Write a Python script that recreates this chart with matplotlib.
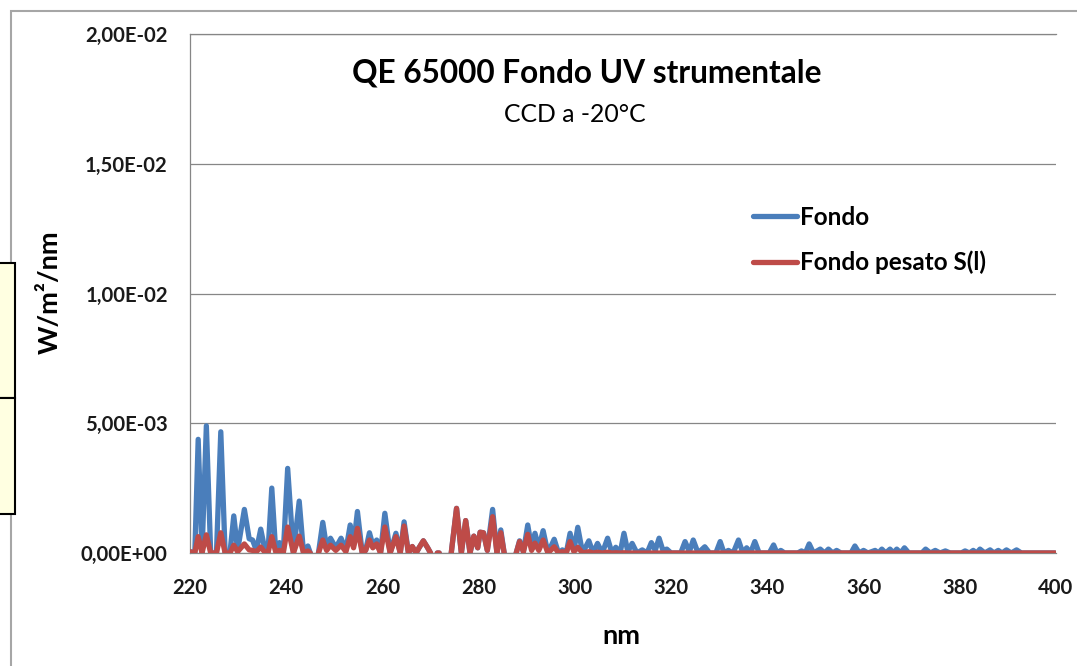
import numpy as np
import matplotlib
matplotlib.use("Agg")
import matplotlib.pyplot as plt
from matplotlib.patches import Rectangle
from matplotlib.ticker import FuncFormatter, MultipleLocator

plt.rcParams['font.family'] = ['Lato', 'DejaVu Sans']

nan = np.nan

# wavelength samples (nm) and read values in units of 1e-3 W/m2/nm
nm = [220.0, 221.0, 221.7, 222.5, 223.4, 224.3, 225.5, 226.4, 227.3, 228.3,
      229.1, 229.9, 231.3, 232.3, 233.0, 233.8, 234.7, 235.6, 236.2, 237.0,
      237.8, 238.6, 239.4, 240.3, 241.5, 242.7, 243.6, 244.5, 245.0, 246.0,
      246.7, 247.6, 248.4, 249.2, 250.3, 251.4, 252.4, 253.3, 254.0, 254.8,
      255.8, 256.5, 257.3, 258.0, 258.8, 259.6, 260.5, 261.6, 262.8, 263.7,
      264.5, 265.4, 266.2, 267.0, 267.6, 268.5, 269.4, 270.0, 270.8, 271.4,
      271.8, 273.0, 274.3, 275.4, 276.4, 277.3, 278.2, 279.0, 279.8, 280.3,
      281.0, 281.8, 282.9, 283.8, 284.6, 285.3, 286.5, 287.8, 288.5, 289.3,
      290.2, 291.0, 291.7, 292.5, 293.4, 294.4, 295.7, 296.6, 297.4, 298.2,
      299.0, 299.8, 300.6, 301.6, 302.9, 303.8, 304.7, 305.7, 306.8, 307.7,
      308.5, 309.4, 310.2, 311.0, 311.9, 312.9, 314.0, 315.0, 315.9, 316.7,
      317.5, 318.3, 319.1, 320.0, 322.0, 322.9, 323.8, 324.6, 325.6, 327.0,
      328.0, 329.3, 330.2, 331.0, 331.9, 332.9, 334.0, 334.9, 335.7, 336.5,
      337.4, 338.3, 340.4, 341.3, 342.0, 342.8, 343.6, 346.3, 347.1, 347.9,
      348.7, 349.6, 351.0, 351.9, 352.7, 353.6, 354.4, 355.3, 357.4, 358.2,
      359.1, 360.0, 360.9, 362.4, 363.1, 363.8, 364.6, 365.5, 366.2, 366.9,
      367.7, 368.5, 369.4, 372.1, 372.9, 373.9, 374.9, 375.9, 377.0, 378.0,
      380.3, 381.1, 382.0, 382.8, 383.5, 384.2, 385.2, 386.3, 387.1, 388.0,
      388.8, 389.7, 390.7, 391.8, 392.8, 399.8]

fondo = [0.05, 0.0, 4.38, 0.0, 4.90, 0.0, 0.0, 4.67, 0.0, 0.0,
         1.43, 0.10, 1.68, 0.55, 0.50, 0.10, 0.92, 0.10, 0.0, 2.50,
         0.10, 0.40, 0.05, 3.26, 0.0, 2.00, 0.0, 0.27, 0.0, nan,
         0.0, 1.18, 0.20, 0.57, 0.20, 0.57, 0.10, 1.08, 0.30, 1.60,
         0.0, 0.10, 0.78, 0.30, 0.50, 0.0, 1.53, 0.0, 0.76, 0.0,
         1.20, 0.0, 0.25, 0.0, 0.20, 0.47, 0.20, 0.0, nan, 0.0,
         0.0, nan, 0.0, 1.72, 0.0, 1.25, 0.0, 0.65, 0.20, 0.80,
         0.78, 0.10, 1.68, 0.0, 0.89, 0.0, nan, 0.0, 0.47, 0.05,
         1.08, 0.20, 0.76, 0.20, 0.86, 0.0, 0.53, 0.0, 0.12, 0.0,
         0.76, 0.10, 0.99, 0.0, 0.47, 0.0, 0.37, 0.0, 0.57, 0.0,
         0.22, 0.0, 0.76, 0.05, 0.37, 0.0, 0.12, 0.0, 0.40, 0.10,
         0.57, 0.10, 0.15, 0.0, 0.0, 0.44, 0.05, 0.50, 0.0, 0.24,
         0.0, 0.0, 0.44, 0.0, 0.10, 0.0, 0.50, 0.0, 0.20, 0.0,
         0.44, 0.0, 0.0, 0.31, 0.0, 0.10, 0.0, 0.0, 0.08, 0.0,
         0.35, 0.0, 0.15, 0.0, 0.15, 0.0, 0.10, 0.0, 0.0, 0.27,
         0.0, 0.10, 0.0, 0.10, 0.0, 0.15, 0.0, 0.15, 0.0, 0.15,
         0.0, 0.20, 0.0, 0.0, 0.15, 0.0, 0.10, 0.0, 0.08, 0.0,
         0.0, 0.08, 0.0, 0.10, 0.0, 0.15, 0.0, 0.12, 0.0, 0.10,
         0.0, 0.12, 0.0, 0.12, 0.0, 0.0]

pesato = [0.05, 0.0, 0.63, 0.0, 0.70, 0.0, 0.0, 0.78, 0.0, 0.0,
          0.30, 0.05, 0.35, 0.12, 0.10, 0.05, 0.23, 0.02, 0.0, 0.63,
          0.05, 0.10, 0.02, 1.00, 0.0, 0.65, 0.0, 0.08, 0.0, nan,
          0.0, 0.50, 0.10, 0.30, 0.10, 0.30, 0.05, 0.63, 0.20, 0.95,
          0.0, 0.10, 0.50, 0.20, 0.35, 0.0, 1.00, 0.0, 0.63, 0.0,
          1.04, 0.0, 0.25, 0.0, 0.20, 0.47, 0.20, 0.0, nan, 0.0,
          0.0, nan, 0.0, 1.72, 0.0, 1.25, 0.0, 0.65, 0.20, 0.80,
          0.78, 0.10, 1.40, 0.0, 0.78, 0.0, nan, 0.0, 0.44, 0.05,
          0.72, 0.10, 0.38, 0.10, 0.50, 0.0, 0.24, 0.0, 0.05, 0.0,
          0.44, 0.05, 0.22, 0.0, 0.05, 0.0, 0.03, 0.0, 0.03, 0.0,
          0.01, 0.0, 0.01, 0.0, 0.0, 0.0, 0.0, 0.0, 0.0, 0.0,
          0.0, 0.0, 0.0, 0.0, 0.0, 0.0, 0.0, 0.0, 0.0, 0.0,
          0.0, 0.0, 0.0, 0.0, 0.0, 0.0, 0.0, 0.0, 0.0, 0.0,
          0.0, 0.0, 0.0, 0.0, 0.0, 0.0, 0.0, 0.0, 0.0, 0.0,
          0.0, 0.0, 0.0, 0.0, 0.0, 0.0, 0.0, 0.0, 0.0, 0.0,
          0.0, 0.0, 0.0, 0.0, 0.0, 0.0, 0.0, 0.0, 0.0, 0.0,
          0.0, 0.0, 0.0, 0.0, 0.0, 0.0, 0.0, 0.0, 0.0, 0.0,
          0.0, 0.0, 0.0, 0.0, 0.0, 0.0, 0.0, 0.0, 0.0, 0.0,
          0.0, 0.0, 0.0, 0.0, 0.0, 0.0]

series_names = ['Fondo', 'Fondo pesato S(l)']
title = 'QE 65000 Fondo UV strumentale'
subtitle = 'CCD a -20°C'

W, H = 1077, 666
fig = plt.figure(figsize=(W / 100, H / 100), dpi=100)
ax = fig.add_axes([190 / W, 1 - 553 / H, (1056 - 190) / W, (553 - 34) / H])

x = np.array(nm)
ax.plot(x, np.array(fondo) * 1e-3, color='#4A7EBB', lw=3.8,
        solid_joinstyle='round', solid_capstyle='round', label=series_names[0], zorder=3)
ax.plot(x, np.array(pesato) * 1e-3, color='#BE4B48', lw=3.8,
        solid_joinstyle='round', solid_capstyle='round', label=series_names[1], zorder=4)

ax.set_xlim(220, 400)
ax.set_ylim(0, 0.02)
ax.xaxis.set_major_locator(MultipleLocator(20))
ax.yaxis.set_major_locator(MultipleLocator(0.005))
ax.yaxis.set_major_formatter(FuncFormatter(lambda v, p: f"{v:.2E}".replace('.', ',')))
ax.tick_params(length=0, labelsize=14.6, colors='#1a1a1a')
ax.tick_params(axis='y', pad=16)
ax.tick_params(axis='x', pad=18)
for lab in ax.get_xticklabels() + ax.get_yticklabels():
    lab.set_fontweight('bold')

ax.grid(axis='y', color='#868686', lw=0.9)
ax.grid(axis='x', visible=False)
for side in ['top', 'bottom', 'left']:
    ax.spines[side].set_color('#868686')
    ax.spines[side].set_linewidth(0.9)
ax.spines['right'].set_visible(False)

fig.text(587 / W, 1 - 73 / H, title, ha='center', va='center',
         fontsize=22.8, fontweight='bold', color='black')
fig.text(575 / W, 1 - 115 / H, subtitle, ha='center', va='center',
         fontsize=17.8, color='black')
fig.text(621 / W, 1 - 636 / H, 'nm', ha='center', va='center',
         fontsize=19.5, fontweight='bold')
fig.text(50 / W, 1 - 292 / H, 'W/m²/nm', ha='center', va='center',
         rotation=90, fontsize=19.5, fontweight='bold')

leg = ax.legend(loc='upper left', bbox_to_anchor=(753 / W, 1 - 206 / H),
                bbox_transform=fig.transFigure, frameon=False, fontsize=17.5,
                handlelength=1.8, handletextpad=0.15, labelspacing=0.9,
                borderpad=0, borderaxespad=0)
for t in leg.get_texts():
    t.set_fontweight('bold')

# outer chart frame and the spreadsheet cells on the left
fig.patches.append(Rectangle((11 / W, -0.05), 1.2, 1 - 11 / H + 0.05,
                             transform=fig.transFigure, fill=False,
                             edgecolor='#A6A6A6', lw=1.5))
for top, bot in [(263, 398), (398, 514)]:
    fig.patches.append(Rectangle((-0.01, 1 - bot / H), 15 / W + 0.01, (bot - top) / H,
                                 transform=fig.transFigure, facecolor='#FFFFE1',
                                 edgecolor='black', lw=1.5, zorder=5))

fig.savefig('out.png', dpi=100)
